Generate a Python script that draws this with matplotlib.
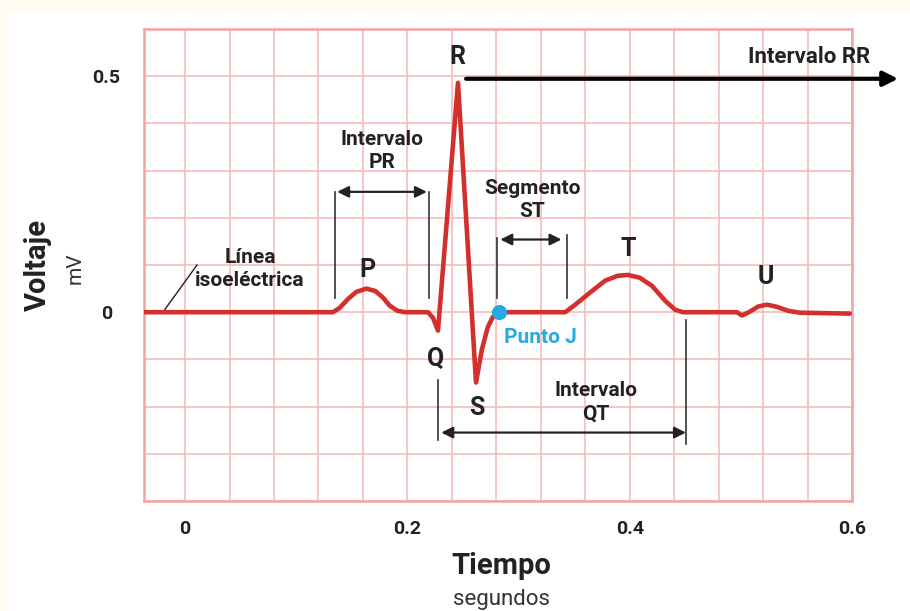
import matplotlib
matplotlib.use("Agg")
import matplotlib.pyplot as plt
from matplotlib.ticker import MultipleLocator
from matplotlib.patches import Rectangle

plt.rcParams['font.family'] = ['Roboto', 'DejaVu Sans']

# ECG trace (time in s, voltage in mV)
t = [-0.037, 0.119, 0.133, 0.139, 0.147, 0.154, 0.163, 0.171, 0.178, 0.184,
     0.191, 0.198, 0.2185, 0.223, 0.2275, 0.2455, 0.2617, 0.267, 0.2724, 0.2769,
     0.2824, 0.342, 0.351, 0.364, 0.378, 0.389, 0.3985, 0.409, 0.420, 0.432,
     0.441, 0.448, 0.4965, 0.501, 0.508, 0.5155, 0.5236, 0.533, 0.5425, 0.553,
     0.598]
mv = [0.0, 0.0, 0.0, 0.009, 0.029, 0.043, 0.050, 0.045, 0.031, 0.014,
      0.003, 0.0, 0.0, -0.012, -0.039, 0.486, -0.149, -0.079, -0.031, -0.010,
      0.0, 0.0, 0.016, 0.041, 0.067, 0.077, 0.079, 0.073, 0.056, 0.024,
      0.005, 0.0, 0.0, -0.007, 0.001, 0.012, 0.016, 0.011, 0.003, -0.001,
      -0.003]

punto_j = (0.2824, 0.0)
pr = (0.1348, 0.2195)
st = (0.2806, 0.3436)
qt = (0.2275, 0.4506)
rr_start = 0.2528

x_ticks = [0, 0.2, 0.4, 0.6]
x_labels = ['0', '0.2', '0.4', '0.6']
y_ticks = [0, 0.5]
y_labels = ['0', '0.5']

red = '#d3302d'
blue = '#27a9e1'
ink = '#222222'
grid_c = '#f6bcbc'
edge_c = '#f2a3a3'

fig = plt.figure(figsize=(9.1, 6.11), dpi=100)
fig.patch.set_facecolor('white')
fig.patches.append(Rectangle((0, 601 / 611), 1, 10 / 611, transform=fig.transFigure,
                             color='#fffbee', zorder=-5))
fig.patches.append(Rectangle((0, 0), 7 / 910, 1, transform=fig.transFigure,
                             color='#fffbee', zorder=-5))

ax = fig.add_axes([144 / 910, 110 / 611, 708 / 910, 472 / 611])
ax.set_xlim(-0.037, 0.6)
ax.set_ylim(-0.4, 0.6)

ax.xaxis.set_minor_locator(MultipleLocator(0.04))
ax.yaxis.set_minor_locator(MultipleLocator(0.1))
ax.set_xticks(x_ticks, x_labels)
ax.set_yticks(y_ticks, y_labels)
ax.grid(which='both', color=grid_c, lw=1.2)
ax.set_axisbelow(True)
ax.tick_params(which='both', length=0)
ax.tick_params(axis='x', pad=14, labelsize=14, labelcolor=ink)
ax.tick_params(axis='y', pad=27, labelsize=14, labelcolor=ink)
for lab in ax.get_xticklabels() + ax.get_yticklabels():
    lab.set_fontweight('bold')
for lab in ax.get_yticklabels():
    lab.set_horizontalalignment('center')
for s in ax.spines.values():
    s.set_color(edge_c)
    s.set_linewidth(1.8)

ax.plot(t, mv, color=red, lw=3.3, solid_joinstyle='round', solid_capstyle='round', zorder=3)
ax.scatter([punto_j[0]], [punto_j[1]], s=120, color=blue, zorder=4, lw=0)

txt = dict(color=ink, fontweight='bold', ha='center', va='center')
big = dict(txt, fontsize=18)
ax.text(0.1636, 0.09, 'P', **big)
ax.text(0.2447, 0.541, 'R', **big)
ax.text(0.2257, -0.10, 'Q', **big)
ax.text(0.2627, -0.202, 'S', **big)
ax.text(0.3985, 0.134, 'T', **big)
ax.text(0.5226, 0.075, 'U', **big)
ax.text(0.3194, -0.054, 'Punto J', color=blue, fontweight='bold', fontsize=15,
        ha='center', va='center')

ax.text(0.0584, 0.092, 'Línea\nisoeléctrica', fontsize=15, linespacing=1.3, **txt)
ax.plot([-0.020, 0.0107], [0.0, 0.10], color=ink, lw=1)

thin = dict(color='#333333', lw=1.2)
head = dict(arrowstyle='<|-|>', color=ink, lw=1.6, mutation_scale=17,
            shrinkA=0, shrinkB=0)

# PR interval
ax.plot([pr[0], pr[0]], [0.031, 0.255], **thin)
ax.plot([pr[1], pr[1]], [0.031, 0.255], **thin)
ax.annotate('', xy=(pr[1] - 0.002, 0.255), xytext=(pr[0] + 0.002, 0.255), arrowprops=head)
ax.text(sum(pr) / 2, 0.342, 'Intervalo\nPR', fontsize=15, linespacing=1.3, **txt)

# ST segment
ax.plot([st[0], st[0]], [0.031, 0.158], **thin)
ax.plot([st[1], st[1]], [0.031, 0.164], **thin)
ax.annotate('', xy=(st[1] - 0.005, 0.154), xytext=(st[0] + 0.003, 0.154), arrowprops=head)
ax.text(sum(st) / 2, 0.238, 'Segmento\nST', fontsize=15, linespacing=1.3, **txt)

# QT interval
ax.plot([qt[0], qt[0]], [-0.143, -0.270], **thin)
ax.plot([qt[1], qt[1]], [-0.016, -0.279], **thin)
ax.annotate('', xy=(qt[1], -0.255), xytext=(qt[0] + 0.003, -0.255), arrowprops=head)
ax.text(0.3697, -0.19, 'Intervalo\nQT', fontsize=15, linespacing=1.3, **txt)

# RR interval
ax.annotate('', xy=(0.6415, 0.4946), xytext=(rr_start, 0.4946),
            arrowprops=dict(arrowstyle='-|>', color='black', lw=3, mutation_scale=22,
                            shrinkA=0, shrinkB=0),
            annotation_clip=False)
ax.text(0.5613, 0.541, 'Intervalo RR', fontsize=16, **txt)

fig.text(501 / 910, 1 - 566 / 611, 'Tiempo', fontsize=21, fontweight='bold',
         color=ink, ha='center', va='center')
fig.text(501 / 910, 1 - 600 / 611, 'segundos', fontsize=16, color='#333333',
         ha='center', va='center')
fig.text(38 / 910, 1 - 265 / 611, 'Voltaje', fontsize=21, fontweight='bold',
         color=ink, ha='center', va='center', rotation=90)
fig.text(75 / 910, 1 - 268 / 611, 'mV', fontsize=15, color='#333333',
         ha='center', va='center', rotation=90)

fig.savefig('out.png', dpi=100)
